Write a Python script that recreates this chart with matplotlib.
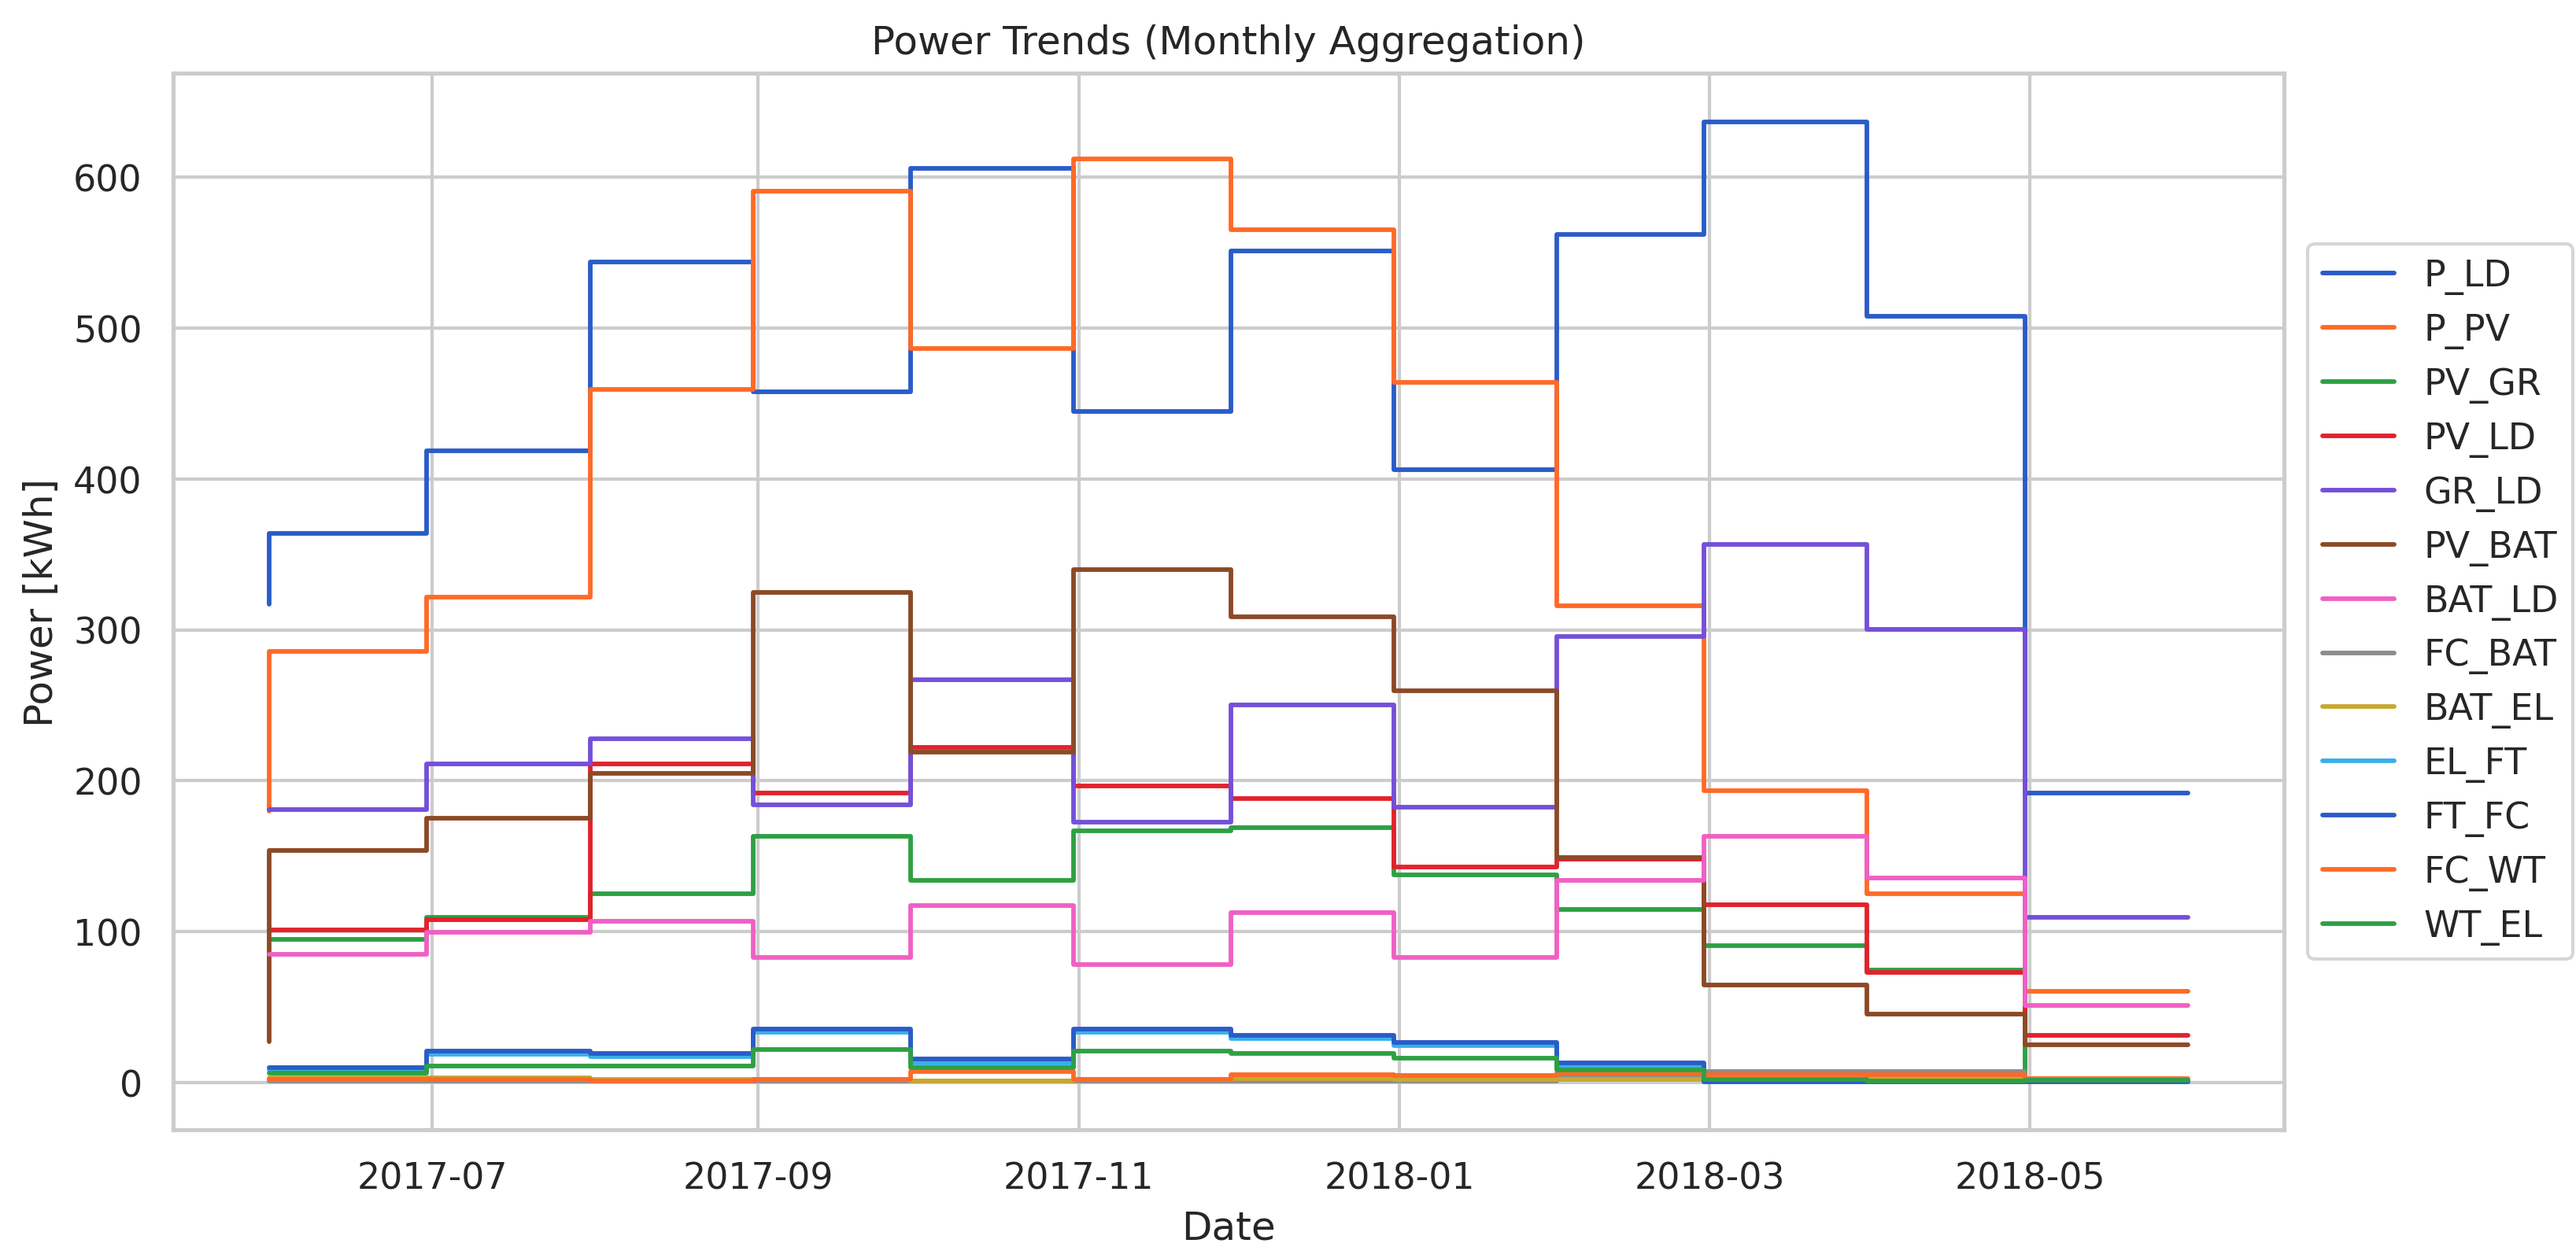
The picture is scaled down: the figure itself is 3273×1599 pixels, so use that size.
import numpy as np
import pandas as pd
import matplotlib
matplotlib.use("Agg")
import matplotlib.pyplot as plt
import matplotlib.dates as mdates
import seaborn as sns

# ── data (monthly aggregation, month-end labels) ─────────────────────────────
dates = pd.date_range("2017-05-31", "2018-05-31", freq="ME")

P_LD   = [317, 364, 418.5, 544, 458, 606, 444.6, 551.4, 406.4, 562.2, 637, 508, 191.6]
P_PV   = [180, 285.5, 321.7, 459.4, 591, 486.7, 612.4, 565.5, 463.9, 315.7, 193.2, 124.9, 60.2]
PV_GR  = [95, 95, 109.6, 125, 163, 133.7, 167, 169, 137.8, 114.5, 90.4, 74.3, 1.5]
PV_LD  = [101, 101, 108, 211, 191.6, 222, 196.4, 188.4, 143, 148, 117.7, 72.7, 31]
GR_LD  = [181, 181, 211, 228, 184, 267, 172.3, 250.2, 182.3, 295.6, 356.6, 300.4, 109.6]
PV_BAT = [27, 154, 175, 205, 325, 219, 340, 308.4, 259.4, 149, 64.5, 45, 25]
BAT_LD = [84.7, 84.7, 99.6, 107, 83, 117.3, 78.3, 112.4, 82.7, 133.7, 163, 135.3, 51]
FC_BAT = [1, 1, 1, 1, 1, 1, 1, 1, 1, 4, 7, 7, 1]
BAT_EL = [3, 3, 3, 2, 2, 1, 2, 2.6, 2, 2, 1, 2.6, 1]
EL_FT  = [8, 8, 18.5, 17, 33, 13, 33, 29, 24.5, 10.5, 0.5, 0.5, 0.5]
FT_FC  = [10, 10, 20.5, 19, 35.5, 15.5, 35.5, 31, 26.5, 13, 0.5, 0.5, 0.5]
FC_WT  = [2, 2, 2, 1, 2, 7, 2, 5.3, 4.4, 6, 5, 5, 2.6]
WT_EL  = [6, 6, 11, 11, 22, 10, 20.5, 19.3, 15.8, 8, 2, 1, 1.2]

series = {
    "P_LD": P_LD, "P_PV": P_PV, "PV_GR": PV_GR, "PV_LD": PV_LD,
    "GR_LD": GR_LD, "PV_BAT": PV_BAT, "BAT_LD": BAT_LD, "FC_BAT": FC_BAT,
    "BAT_EL": BAT_EL, "EL_FT": EL_FT, "FT_FC": FT_FC, "FC_WT": FC_WT,
    "WT_EL": WT_EL,
}
df = pd.DataFrame(series, index=dates)

# colours (cycle repeats after 10)
palette = ["#2a5cc8", "#ff6a28", "#2ea044", "#e2222c", "#7450d8",
           "#8c4a26", "#f060c4", "#8c8c8c", "#c8a830", "#38b0e8"]

# ── plot ─────────────────────────────────────────────────────────────────────
sns.set_theme(style="whitegrid")
plt.rcParams["font.family"] = ["DejaVu Sans"]

fig, ax = plt.subplots(figsize=(10.91, 5.333), dpi=300)
fig.subplots_adjust(left=0.0673, right=0.8865, top=0.941, bottom=0.102)

for i, col in enumerate(df.columns):
    ax.step(df.index, df[col], where="pre", label=col, linewidth=1.4,
            color=palette[i % len(palette)])

ax.xaxis.set_major_locator(mdates.MonthLocator(bymonth=[1, 3, 5, 7, 9, 11]))
ax.xaxis.set_major_formatter(mdates.DateFormatter("%Y-%m"))

ax.set_title("Power Trends (Monthly Aggregation)")
ax.set_xlabel("Date")
ax.set_ylabel("Power [kWh]")
ax.legend(loc="center left", bbox_to_anchor=(1.003, 0.5))

fig.savefig("out.png", dpi=300)
